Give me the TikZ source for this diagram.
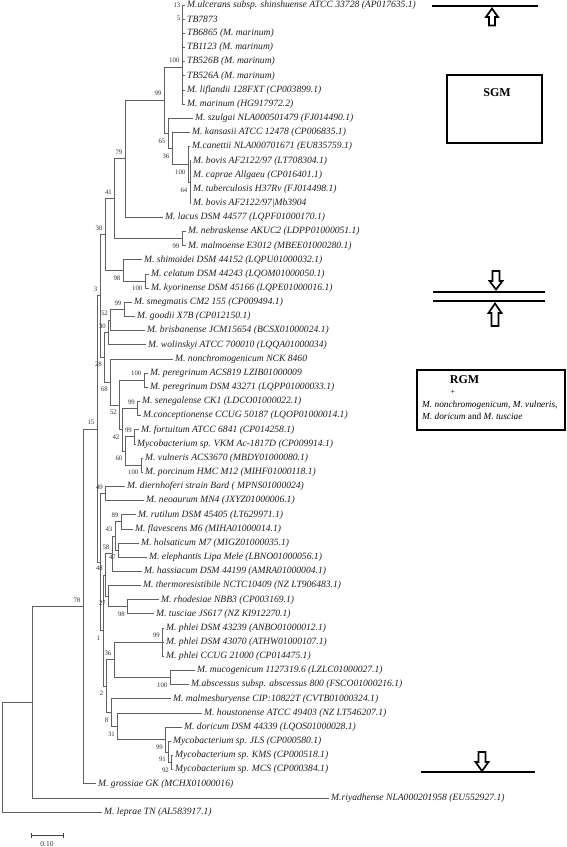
\documentclass[tikz,border=0pt]{standalone}
\usepackage{fontspec}
\setmainfont{Liberation Serif}
\begin{document}
\begin{tikzpicture}[x=1pt,y=-1pt,
  br/.style={draw=black!62, line width=0.85pt},
  leaf/.style={anchor=west, inner xsep=2pt, inner ysep=0pt, font=\fontsize{9.6}{10}\selectfont\itshape, text=black!88},
  bs/.style={inner sep=0pt, anchor=east, font=\fontsize{6.8}{7}\selectfont, text=black!80},
  annline/.style={draw=black, line width=2.6pt},
  annbox/.style={draw=black, line width=2.4pt},
  arrowbox/.style={draw=black, line width=1.7pt, fill=white, line join=miter}]
\useasboundingbox (0,0) rectangle (567,847);
% ---------- leaves ----------
\node[leaf] (L1) at (185,5.00) {M.ulcerans subsp. shinshuense ATCC 33728 (AP017635.1)};
\node[leaf] (L2) at (185,19.16) {TB7873};
\node[leaf] (L3) at (185,33.32) {TB6865 (M. marinum)};
\node[leaf] (L4) at (185,47.48) {TB1123 (M. marinum)};
\node[leaf] (L5) at (185,61.64) {TB526B (M. marinum)};
\node[leaf] (L6) at (185,75.80) {TB526A (M. marinum)};
\node[leaf] (L7) at (185,89.96) {M. liflandii 128FXT (CP003899.1)};
\node[leaf] (L8) at (185,104.12) {M. marinum (HG917972.2)};
\node[leaf] (L9) at (193,118.28) {M. szulgai NLA000501479 (FJ014490.1)};
\node[leaf] (L10) at (190,132.44) {M. kansasii ATCC 12478 (CP006835.1)};
\node[leaf] (L11) at (190,146.60) {M.canettii NLA000701671 (EU835759.1)};
\node[leaf] (L12) at (191,160.76) {M. bovis AF2122/97 (LT708304.1)};
\node[leaf] (L13) at (191,174.92) {M. caprae Allgaeu (CP016401.1)};
\node[leaf] (L14) at (191,189.08) {M. tuberculosis H37Rv (FJ014498.1)};
\node[leaf] (L15) at (191,203.24) {M. bovis AF2122/97|Mb3904};
\node[leaf] (L16) at (163,217.40) {M. lacus DSM 44577 (LQPF01000170.1)};
\node[leaf] (L17) at (186,231.56) {M. nebraskense AKUC2 (LDPP01000051.1)};
\node[leaf] (L18) at (186,245.72) {M. malmoense E3012 (MBEE01000280.1)};
\node[leaf] (L19) at (142,259.88) {M. shimoidei DSM 44152 (LQPU01000032.1)};
\node[leaf] (L20) at (149,274.04) {M. celatum DSM 44243 (LQOM01000050.1)};
\node[leaf] (L21) at (149,288.20) {M. kyorinense DSM 45166 (LQPE01000016.1)};
\node[leaf] (L22) at (132,302.36) {M. smegmatis CM2 155 (CP009494.1)};
\node[leaf] (L23) at (135,316.52) {M. goodii X7B (CP012150.1)};
\node[leaf] (L24) at (145,330.68) {M. brisbanense JCM15654 (BCSX01000024.1)};
\node[leaf] (L25) at (146,344.84) {M. wolinskyi ATCC 700010 (LQQA01000034)};
\node[leaf] (L26) at (173,359.00) {M. nonchromogenicum NCK 8460};
\node[leaf] (L27) at (148,373.16) {M. peregrinum ACS819 LZIB01000009};
\node[leaf] (L28) at (148,387.32) {M. peregrinum DSM 43271 (LQPP01000033.1)};
\node[leaf] (L29) at (140,401.48) {M. senegalense CK1 (LDCO01000022.1)};
\node[leaf] (L30) at (141,415.64) {M.conceptionense CCUG 50187 (LQOP01000014.1)};
\node[leaf] (L31) at (139,429.80) {M. fortuitum ATCC 6841 (CP014258.1)};
\node[leaf] (L32) at (135,443.96) {Mycobacterium sp. VKM Ac-1817D (CP009914.1)};
\node[leaf] (L33) at (143,458.12) {M. vulneris ACS3670 (MBDY01000080.1)};
\node[leaf] (L34) at (143,472.28) {M. porcinum HMC M12 (MIHF01000118.1)};
\node[leaf] (L35) at (125,486.44) {M. diernhoferi strain Bard ( MPNS01000024)};
\node[leaf] (L36) at (144,500.60) {M. neoaurum MN4 (JXYZ01000006.1)};
\node[leaf] (L37) at (136,514.76) {M. rutilum DSM 45405 (LT629971.1)};
\node[leaf] (L38) at (133,528.92) {M. flavescens M6 (MIHA01000014.1)};
\node[leaf] (L39) at (139,543.08) {M. holsaticum M7 (MIGZ01000035.1)};
\node[leaf] (L40) at (147,557.24) {M. elephantis Lipa Mele (LBNO01000056.1)};
\node[leaf] (L41) at (142,571.40) {M. hassiacum DSM 44199 (AMRA01000004.1)};
\node[leaf] (L42) at (141,585.56) {M. thermoresistibile NCTC10409 (NZ LT906483.1)};
\node[leaf] (L43) at (159,599.72) {M. rhodesiae NBB3 (CP003169.1)};
\node[leaf] (L44) at (154,613.88) {M. tusciae JS617 (NZ KI912270.1)};
\node[leaf] (L45) at (164,628.04) {M. phlei DSM 43239 (ANBO01000012.1)};
\node[leaf] (L46) at (164,642.20) {M. phlei DSM 43070 (ATHW01000107.1)};
\node[leaf] (L47) at (164,656.36) {M. phlei CCUG 21000 (CP014475.1)};
\node[leaf] (L48) at (195,670.52) {M. mucogenicum 1127319.6 (LZLC01000027.1)};
\node[leaf] (L49) at (189,684.68) {M.abscessus subsp. abscessus 800 (FSCO01000216.1)};
\node[leaf] (L50) at (171,698.84) {M. malmesburyense CIP:10822T (CVTB01000324.1)};
\node[leaf] (L51) at (202,713.00) {M. houstonense ATCC 49403 (NZ LT546207.1)};
\node[leaf] (L52) at (182,727.16) {M. doricum DSM 44339 (LQOS01000028.1)};
\node[leaf] (L53) at (171,741.32) {Mycobacterium sp. JLS (CP000580.1)};
\node[leaf] (L54) at (173,755.48) {Mycobacterium sp. KMS (CP000518.1)};
\node[leaf] (L55) at (173,769.64) {Mycobacterium sp. MCS (CP000384.1)};
\node[leaf] (L56) at (96,783.80) {M. grossiae GK (MCHX01000016)};
\node[leaf] (L57) at (329,797.96) {M.riyadhense NLA000201958 (EU552927.1)};
\node[leaf] (L58) at (102,812.12) {M. leprae TN (AL583917.1)};
% ---------- internal nodes ----------
\coordinate (N100a) at (182,67);
\coordinate (N99) at (164,100.16);
\coordinate (NQ) at (168,133.33);
\coordinate (NR) at (172,148.37);
\coordinate (NT36) at (188,164.3);
\coordinate (NT100) at (190,182);
\coordinate (N79) at (125,158.78);
\coordinate (N99nm) at (182,238.64);
\coordinate (N41) at (114.5,198.71);
\coordinate (N100c) at (145,281.12);
\coordinate (N98) at (123,270.5);
\coordinate (N30a) at (105,234.6);
\coordinate (N3) at (100,295.9);
\coordinate (N99s) at (124,309.44);
\coordinate (N52s) at (110.5,320.06);
\coordinate (N30b) at (108.5,332.45);
\coordinate (N28) at (104.5,357.23);
\coordinate (N100p) at (144,380.24);
\coordinate (N99sc) at (137.5,408.56);
\coordinate (N99f) at (134.5,436.88);
\coordinate (N100v) at (141,465.2);
\coordinate (N60) at (125,451.04);
\coordinate (N42) at (122,429.8);
\coordinate (N52r) at (119.5,405.02);
\coordinate (N68) at (110.5,382.01);
\coordinate (N49) at (105.5,493.52);
\coordinate (N89) at (121,521.84);
\coordinate (N47) at (118.5,550.16);
\coordinate (N43) at (115,536);
\coordinate (N58) at (112,553.7);
\coordinate (N98r) at (127.5,606.8);
\coordinate (N27) at (108.5,596.18);
\coordinate (N48) at (105.5,574.94);
\coordinate (N99ph) at (162.5,642.2);
\coordinate (N100m) at (170,677.6);
\coordinate (N36) at (114,659.9);
\coordinate (N92) at (171.5,762.56);
\coordinate (N91) at (168.5,751.94);
\coordinate (N99d) at (165.5,739.55);
\coordinate (N31) at (117.5,726.28);
\coordinate (N8) at (111,712.56);
\coordinate (N2) at (106,686.23);
\coordinate (N1) at (103,630.59);
\coordinate (NV) at (100,562.06);
\coordinate (N15) at (97,428.98);
\coordinate (N78) at (83,606.39);
\coordinate (NA) at (32,702.18);
\coordinate (NRoot) at (2,757.15);
% ---------- branches ----------
\foreach \c in {N100a,NQ} \draw[br] (N99) |- (\c);
\foreach \c in {L1,L2,L3,L4,L5,L6,L7,L8} \draw[br] (N100a) |- (\c.west);
\draw[br] (NQ) |- (L9.west); \draw[br] (NQ) |- (NR);
\draw[br] (NR) |- (L10.west); \draw[br] (NR) |- (NT36);
\draw[br] (NT36) |- (L11.west); \draw[br] (NT36) |- (NT100);
\foreach \c in {L12,L13,L14,L15} \draw[br] (NT100) |- (\c.west);
\draw[br] (N79) |- (N99); \draw[br] (N79) |- (L16.west);
\draw[br] (N41) |- (N79); \draw[br] (N41) |- (N99nm);
\draw[br] (N99nm) |- (L17.west); \draw[br] (N99nm) |- (L18.west);
\draw[br] (N30a) |- (N41); \draw[br] (N30a) |- (N98);
\draw[br] (N98) |- (L19.west); \draw[br] (N98) |- (N100c);
\draw[br] (N100c) |- (L20.west); \draw[br] (N100c) |- (L21.west);
\draw[br] (N3) |- (N30a); \draw[br] (N3) |- (N28);
\draw[br] (N28) |- (N30b); \draw[br] (N28) |- (N68);
\draw[br] (N30b) |- (N52s); \draw[br] (N30b) |- (L25.west);
\draw[br] (N52s) |- (N99s); \draw[br] (N52s) |- (L24.west);
\draw[br] (N99s) |- (L22.west); \draw[br] (N99s) |- (L23.west);
\draw[br] (N68) |- (L26.west); \draw[br] (N68) |- (N52r);
\draw[br] (N52r) |- (N100p); \draw[br] (N52r) |- (N42);
\draw[br] (N100p) |- (L27.west); \draw[br] (N100p) |- (L28.west);
\draw[br] (N42) |- (N99sc); \draw[br] (N42) |- (N60);
\draw[br] (N99sc) |- (L29.west); \draw[br] (N99sc) |- (L30.west);
\draw[br] (N60) |- (N99f); \draw[br] (N60) |- (N100v);
\draw[br] (N99f) |- (L31.west); \draw[br] (N99f) |- (L32.west);
\draw[br] (N100v) |- (L33.west); \draw[br] (N100v) |- (L34.west);
\draw[br] (N15) |- (N3); \draw[br] (N15) |- (NV);
\draw[br] (NV) |- (N49); \draw[br] (NV) |- (N1);
\draw[br] (N49) |- (L35.west); \draw[br] (N49) |- (L36.west);
\draw[br] (N1) |- (N48); \draw[br] (N1) |- (N2);
\draw[br] (N48) |- (N58); \draw[br] (N48) |- (N27);
\draw[br] (N58) |- (N43); \draw[br] (N58) |- (L41.west);
\draw[br] (N43) |- (N89); \draw[br] (N43) |- (N47);
\draw[br] (N89) |- (L37.west); \draw[br] (N89) |- (L38.west);
\draw[br] (N47) |- (L39.west); \draw[br] (N47) |- (L40.west);
\draw[br] (N27) |- (L42.west); \draw[br] (N27) |- (N98r);
\draw[br] (N98r) |- (L43.west); \draw[br] (N98r) |- (L44.west);
\draw[br] (N2) |- (N36); \draw[br] (N2) |- (N8);
\draw[br] (N36) |- (N99ph); \draw[br] (N36) |- (N100m);
\foreach \c in {L45,L46,L47} \draw[br] (N99ph) |- (\c.west);
\draw[br] (N100m) |- (L48.west); \draw[br] (N100m) |- (L49.west);
\draw[br] (N8) |- (L50.west); \draw[br] (N8) |- (N31);
\draw[br] (N31) |- (L51.west); \draw[br] (N31) |- (N99d);
\draw[br] (N99d) |- (L52.west); \draw[br] (N99d) |- (N91);
\draw[br] (N91) |- (L53.west); \draw[br] (N91) |- (N92);
\draw[br] (N92) |- (L54.west); \draw[br] (N92) |- (L55.west);
\draw[br] (N78) |- (N15); \draw[br] (N78) |- (L56.west);
\draw[br] (NA) |- (N78); \draw[br] (NA) |- (L57.west);
\draw[br] (NRoot) |- (NA); \draw[br] (NRoot) |- (L58.west);
% ---------- bootstrap values ----------
\node[bs] (b13) at (180.5,5) {13};
\node[bs] (b5) at (180.5,18) {5};
\node[bs] (b100a) at ([shift={(-2.5,-6.5)}]N100a) {100};
\node[bs] (b99) at ([shift={(-2.5,-6.5)}]N99) {99};
\node[bs] (b65) at ([shift={(-2.5,8)}]NQ) {65};
\node[bs] (b36t) at ([shift={(-2.5,8)}]NR) {36};
\node[bs] (b100t) at ([shift={(-2.5,8)}]NT36) {100};
\node[bs] (b64) at ([shift={(-2.5,8)}]NT100) {64};
\node[bs] (b79) at ([shift={(-2.5,-6.5)}]N79) {79};
\node[bs] (b41) at ([shift={(-2.5,-6.5)}]N41) {41};
\node[bs] (b30a) at ([shift={(-2.5,-6.5)}]N30a) {30};
\node[bs] (b99nm) at ([shift={(-2.5,7.5)}]N99nm) {99};
\node[bs] (b98) at ([shift={(-2.5,7.5)}]N98) {98};
\node[bs] (b100c) at ([shift={(-2.5,7.5)}]N100c) {100};
\node[bs] (b3) at ([shift={(-2.5,-6.5)}]N3) {3};
\node[bs] (b99s) at ([shift={(-2.5,-6.5)}]N99s) {99};
\node[bs] (b52s) at ([shift={(-2.5,-6.5)}]N52s) {52};
\node[bs] (b30b) at ([shift={(-2.5,-6.5)}]N30b) {30};
\node[bs] (b28) at ([shift={(-2.5,7.5)}]N28) {28};
\node[bs] (b100p) at ([shift={(-2.5,-6.5)}]N100p) {100};
\node[bs] (b68) at ([shift={(-2.5,7.5)}]N68) {68};
\node[bs] (b99sc) at ([shift={(-2.5,-6.5)}]N99sc) {99};
\node[bs] (b52r) at ([shift={(-2.5,7.5)}]N52r) {52};
\node[bs] (b99f) at ([shift={(-2.5,-6.5)}]N99f) {99};
\node[bs] (b42) at ([shift={(-2.5,7.5)}]N42) {42};
\node[bs] (b60) at ([shift={(-2.5,7.5)}]N60) {60};
\node[bs] (b100v) at ([shift={(-2.5,7.5)}]N100v) {100};
\node[bs] (b15) at ([shift={(-2.5,-6.5)}]N15) {15};
\node[bs] (b49) at ([shift={(-2.5,-6.5)}]N49) {49};
\node[bs] (b89) at ([shift={(-2.5,-6.5)}]N89) {89};
\node[bs] (b43) at ([shift={(-2.5,-6.5)}]N43) {43};
\node[bs] (b58) at ([shift={(-2.5,-6.5)}]N58) {58};
\node[bs] (b47) at ([shift={(-2.5,7.5)}]N47) {47};
\node[bs] (b48) at ([shift={(-2.5,-6.5)}]N48) {48};
\node[bs] (b27) at ([shift={(-2.5,7.5)}]N27) {27};
\node[bs] (b98r) at ([shift={(-2.5,7.5)}]N98r) {98};
\node[bs] (b78) at ([shift={(-2.5,-6.5)}]N78) {78};
\node[bs] (b1) at ([shift={(-2.5,7.5)}]N1) {1};
\node[bs] (b99ph) at ([shift={(-2.5,-6.5)}]N99ph) {99};
\node[bs] (b36) at ([shift={(-2.5,-6.5)}]N36) {36};
\node[bs] (b100m) at ([shift={(-2.5,7.5)}]N100m) {100};
\node[bs] (b2) at ([shift={(-2.5,7.5)}]N2) {2};
\node[bs] (b8) at ([shift={(-2.5,7.5)}]N8) {8};
\node[bs] (b31) at ([shift={(-2.5,7.5)}]N31) {31};
\node[bs] (b99d) at ([shift={(-2.5,7.5)}]N99d) {99};
\node[bs] (b91) at ([shift={(-2.5,7.5)}]N91) {91};
\node[bs] (b92) at ([shift={(-2.5,7.5)}]N92) {92};
% ---------- scale bar ----------
\coordinate (SB1) at (31,835); \coordinate (SB2) at (63,835);
\draw[black!75, line width=1pt] (SB1) -- (SB2);
\draw[black!75, line width=1pt] ([yshift=-2.5]SB1) -- ([yshift=2.5]SB1);
\draw[black!75, line width=1pt] ([yshift=-2.5]SB2) -- ([yshift=2.5]SB2);
\node[inner sep=0pt, font=\fontsize{7.5}{8}\selectfont, text=black!80] (sbl) at (47,844) {0.10};
% ---------- annotations ----------
\coordinate (T1) at (432,6); \coordinate (T2) at (538,6);
\draw[annline] (T1) -- (T2);
\draw[arrowbox] (492,8.5) -- (498,17) -- (495,17) -- (495,25.5) -- (489,25.5) -- (489,17) -- (486,17) -- cycle;
\node[annbox, minimum width=95pt, minimum height=68pt, inner sep=0pt] (sgmbox) at (494.5,109) {};
\node[inner sep=0pt, font=\fontsize{12}{12}\selectfont\bfseries] (sgm) at (497,93) {SGM};
\coordinate (M1) at (433,292); \coordinate (M2) at (545,292);
\coordinate (M3) at (433,301); \coordinate (M4) at (545,301);
\draw[annline] (M1) -- (M2);
\draw[annline] (M3) -- (M4);
\draw[arrowbox] (496,289.5) -- (502.5,281) -- (499.5,281) -- (499.5,271) -- (492.5,271) -- (492.5,281) -- (489.5,281) -- cycle;
\draw[arrowbox] (495,303.5) -- (501.5,313) -- (498.5,313) -- (498.5,326) -- (491.5,326) -- (491.5,313) -- (488.5,313) -- cycle;
\node[annbox, minimum width=148pt, minimum height=60pt, inner sep=0pt] (rgmbox) at (491,400) {};
\node[inner sep=0pt, font=\fontsize{12}{12}\selectfont\bfseries] (rgm) at (464.5,380) {RGM};
\node[inner sep=0pt, font=\fontsize{8}{8}\selectfont] (plus) at (453,392.5) {+};
\node[inner sep=0pt, anchor=west, font=\fontsize{9.3}{10}\selectfont\itshape] (rgmt1) at (422,405) {M. nonchromogenicum, M. vulneris,};
\node[inner sep=0pt, anchor=west, font=\fontsize{9.3}{10}\selectfont\itshape] (rgmt2) at (422,416.5) {M. doricum \textup{and} M. tusciae};
\coordinate (B1) at (421,772); \coordinate (B2) at (535,772);
\draw[annline] (B1) -- (B2);
\draw[arrowbox] (482,771) -- (488.5,762) -- (485.5,762) -- (485.5,752) -- (478.5,752) -- (478.5,762) -- (475.5,762) -- cycle;
\end{tikzpicture}
\end{document}
